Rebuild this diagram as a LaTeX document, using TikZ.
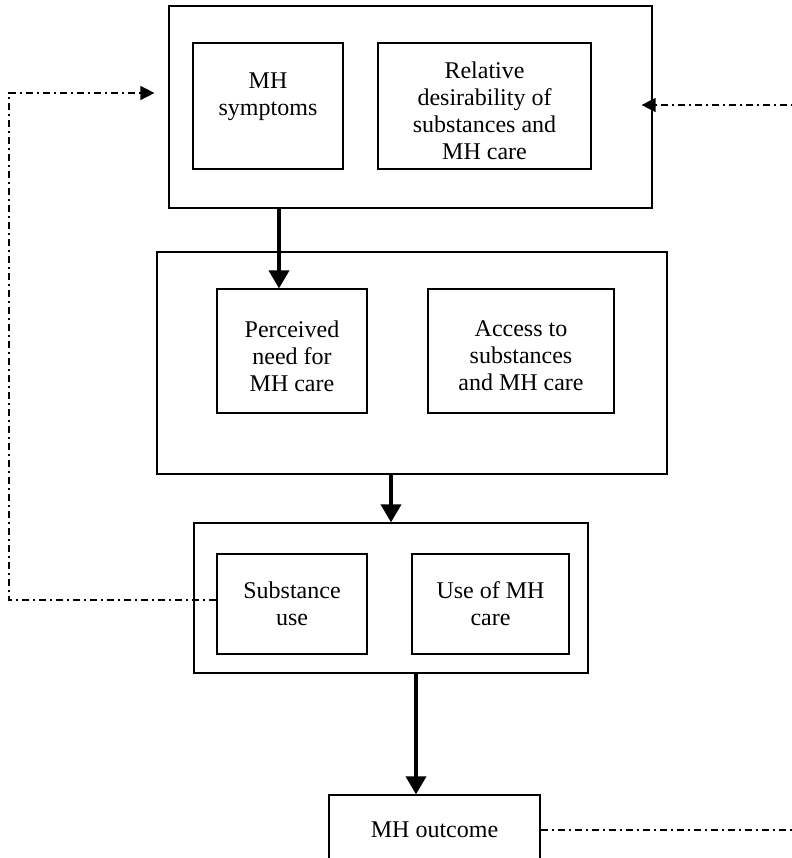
\documentclass[tikz,border=0pt]{standalone}
\usepackage{fontspec}
\setmainfont{Liberation Serif}
\usetikzlibrary{arrows.meta,positioning,calc}

\tikzset{
  outerbox/.style={draw,line width=0.6pt,inner sep=0pt},
  innerbox/.style={draw,line width=0.6pt,inner sep=0pt},
  boxtext/.style={align=center,inner sep=0pt,
    font=\fontsize{12}{13.5}\selectfont},
  flow/.style={line width=1.8pt,-{Triangle[length=9pt,width=10pt]}},
  feedback/.style={line width=0.7pt,
    dash pattern=on 3.5pt off 2pt on 1pt off 2pt,
    -{Triangle[length=7pt,width=7pt]}}
}

\begin{document}
\begin{tikzpicture}[x=0.5pt,y=-0.5pt]
\useasboundingbox (0,0) rectangle (792,858);
\clip (0,0) rectangle (792,858);

% first level
\node[outerbox,minimum width=241.5pt,minimum height=101pt] (top) at (410.5,107) {};
\node[innerbox,minimum width=75pt,minimum height=63pt] (symptoms) at (268,106) {};
\node[innerbox,minimum width=106.5pt,minimum height=63pt] (desir) at (484.5,106) {};
\node[boxtext] (symptomstext) at ([yshift=4.5pt]symptoms.center) {MH\\symptoms};
\node[boxtext] (desirtext) at ([yshift=-2.5pt]desir.center)
  {Relative\\desirability of\\substances and\\MH care};

% second level
\node[outerbox,minimum width=255pt,minimum height=111pt] (mid) at (412,363) {};
\node[innerbox,minimum width=75pt,minimum height=62pt] (need) at (292,351) {};
\node[innerbox,minimum width=93pt,minimum height=62pt] (access) at (521,351) {};
\node[boxtext] (needtext) at ([yshift=-2.5pt]need.center) {Perceived\\need for\\MH care};
\node[boxtext] (accesstext) at ([yshift=-2.5pt]access.center)
  {Access to\\substances\\and MH care};

% third level
\node[outerbox,minimum width=197pt,minimum height=75pt] (low) at (391,598) {};
\node[innerbox,minimum width=75pt,minimum height=50pt] (subuse) at (292,604) {};
\node[innerbox,minimum width=78.5pt,minimum height=50pt] (mhuse) at (490.5,604) {};
\node[boxtext] (subusetext) at (subuse.center) {Substance\\use};
\node[boxtext] (mhusetext) at (mhuse.center) {Use of MH\\care};

% outcome
\node[innerbox,minimum width=105.5pt,minimum height=35pt] (outcome) at (434.5,830) {};
\node[boxtext] (outcometext) at (outcome.center) {MH outcome};

\coordinate (fbl) at (9,0);
\coordinate (fbr) at (820,0);

% main flow
\draw[flow] ([xshift=-6.5pt]need.north |- top.south) -- ([xshift=-6.5pt]need.north);
\draw[flow] (mid.south -| low.north) -- (low.north);
\draw[flow] ([xshift=-9.25pt]outcome.north |- low.south) -- ([xshift=-9.25pt]outcome.north);

% feedback loops
\draw[feedback] ([yshift=2pt]subuse.west) -- ([yshift=2pt]subuse.west -| fbl)
  |- ([xshift=-7pt,yshift=7pt]top.west);
\draw[feedback] (outcome.east) -- (outcome.east -| fbr)
  |- ([xshift=-5.5pt,yshift=1pt]top.east);
\end{tikzpicture}
\end{document}
